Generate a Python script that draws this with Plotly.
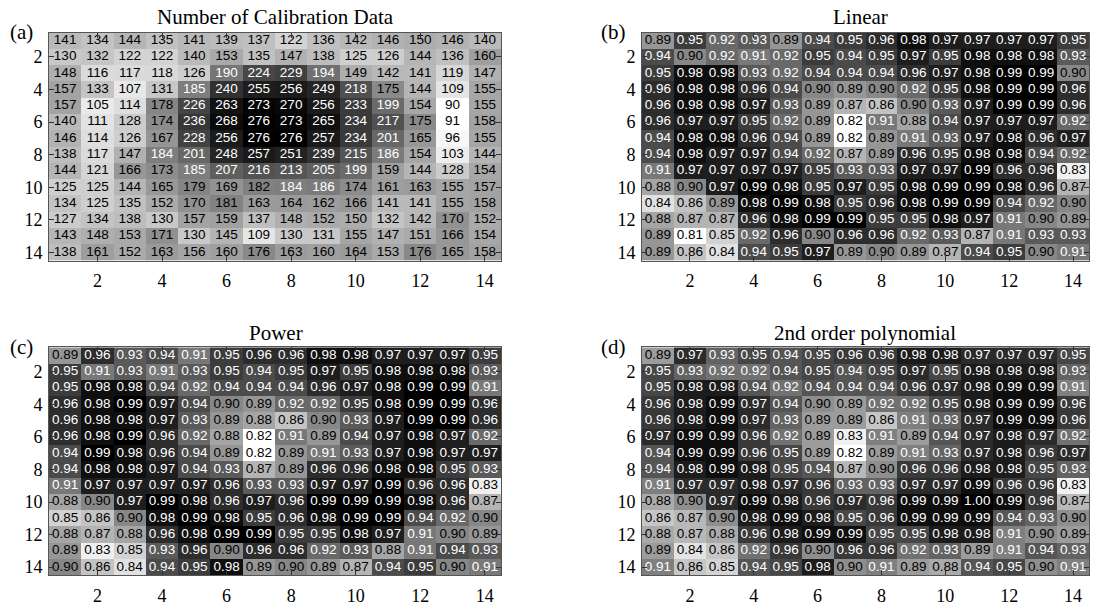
import plotly.graph_objects as go
import numpy as np

# ---------------- data ----------------
calib = [
    [141, 134, 144, 135, 141, 139, 137, 122, 136, 142, 146, 150, 146, 140],
    [130, 132, 122, 122, 140, 153, 135, 147, 138, 125, 126, 144, 136, 160],
    [148, 116, 117, 118, 126, 190, 224, 229, 194, 149, 142, 141, 119, 147],
    [157, 133, 107, 131, 185, 240, 255, 256, 249, 218, 175, 144, 109, 155],
    [157, 105, 114, 178, 226, 263, 273, 270, 256, 233, 199, 154, 90, 155],
    [140, 111, 128, 174, 236, 268, 276, 273, 265, 234, 217, 175, 91, 158],
    [146, 114, 126, 167, 228, 256, 276, 276, 257, 234, 201, 165, 96, 155],
    [138, 117, 147, 184, 201, 248, 257, 251, 239, 215, 186, 154, 103, 144],
    [144, 121, 166, 173, 185, 207, 216, 213, 205, 199, 159, 144, 128, 154],
    [125, 125, 144, 165, 179, 169, 182, 184, 186, 174, 161, 163, 155, 157],
    [134, 125, 135, 152, 170, 181, 163, 164, 162, 166, 141, 141, 155, 158],
    [127, 134, 138, 130, 157, 159, 137, 148, 152, 150, 132, 142, 170, 152],
    [143, 148, 153, 171, 130, 145, 109, 130, 131, 155, 147, 151, 166, 154],
    [138, 161, 152, 163, 156, 160, 176, 163, 160, 164, 153, 176, 165, 158],
]

linear = [
    [0.89, 0.95, 0.92, 0.93, 0.89, 0.94, 0.95, 0.96, 0.98, 0.97, 0.97, 0.97, 0.97, 0.95],
    [0.94, 0.90, 0.92, 0.91, 0.92, 0.95, 0.94, 0.95, 0.97, 0.95, 0.98, 0.98, 0.98, 0.93],
    [0.95, 0.98, 0.98, 0.93, 0.92, 0.94, 0.94, 0.94, 0.96, 0.97, 0.98, 0.99, 0.99, 0.90],
    [0.96, 0.98, 0.98, 0.96, 0.94, 0.90, 0.89, 0.90, 0.92, 0.95, 0.98, 0.99, 0.99, 0.96],
    [0.96, 0.98, 0.98, 0.97, 0.93, 0.89, 0.87, 0.86, 0.90, 0.93, 0.97, 0.99, 0.99, 0.96],
    [0.96, 0.97, 0.97, 0.95, 0.92, 0.89, 0.82, 0.91, 0.88, 0.94, 0.97, 0.97, 0.97, 0.92],
    [0.94, 0.98, 0.98, 0.96, 0.94, 0.89, 0.82, 0.89, 0.91, 0.93, 0.97, 0.98, 0.96, 0.97],
    [0.94, 0.98, 0.97, 0.97, 0.94, 0.92, 0.87, 0.89, 0.96, 0.95, 0.98, 0.98, 0.94, 0.92],
    [0.91, 0.97, 0.97, 0.97, 0.97, 0.95, 0.93, 0.93, 0.97, 0.97, 0.99, 0.96, 0.96, 0.83],
    [0.88, 0.90, 0.97, 0.99, 0.98, 0.95, 0.97, 0.95, 0.98, 0.99, 0.99, 0.98, 0.96, 0.87],
    [0.84, 0.86, 0.89, 0.98, 0.99, 0.98, 0.95, 0.96, 0.98, 0.99, 0.99, 0.94, 0.92, 0.90],
    [0.88, 0.87, 0.87, 0.96, 0.98, 0.99, 0.99, 0.95, 0.95, 0.98, 0.97, 0.91, 0.90, 0.89],
    [0.89, 0.81, 0.85, 0.92, 0.96, 0.90, 0.96, 0.96, 0.92, 0.93, 0.87, 0.91, 0.93, 0.93],
    [0.89, 0.86, 0.84, 0.94, 0.95, 0.97, 0.89, 0.90, 0.89, 0.87, 0.94, 0.95, 0.90, 0.91],
]

power = [
    [0.89, 0.96, 0.93, 0.94, 0.91, 0.95, 0.96, 0.96, 0.98, 0.98, 0.97, 0.97, 0.97, 0.95],
    [0.95, 0.91, 0.93, 0.91, 0.93, 0.95, 0.94, 0.95, 0.97, 0.95, 0.98, 0.98, 0.98, 0.93],
    [0.95, 0.98, 0.98, 0.94, 0.92, 0.94, 0.94, 0.94, 0.96, 0.97, 0.98, 0.99, 0.99, 0.91],
    [0.96, 0.98, 0.99, 0.97, 0.94, 0.90, 0.89, 0.92, 0.92, 0.95, 0.98, 0.99, 0.99, 0.96],
    [0.96, 0.98, 0.98, 0.97, 0.93, 0.89, 0.88, 0.86, 0.90, 0.93, 0.97, 0.99, 0.99, 0.96],
    [0.96, 0.98, 0.99, 0.96, 0.92, 0.88, 0.82, 0.91, 0.89, 0.94, 0.97, 0.98, 0.97, 0.92],
    [0.94, 0.99, 0.98, 0.96, 0.94, 0.89, 0.82, 0.89, 0.91, 0.93, 0.97, 0.98, 0.97, 0.97],
    [0.94, 0.98, 0.98, 0.97, 0.94, 0.93, 0.87, 0.89, 0.96, 0.96, 0.98, 0.98, 0.95, 0.93],
    [0.91, 0.97, 0.97, 0.97, 0.97, 0.96, 0.93, 0.93, 0.97, 0.97, 0.99, 0.96, 0.96, 0.83],
    [0.88, 0.90, 0.97, 0.99, 0.98, 0.96, 0.97, 0.96, 0.99, 0.99, 0.99, 0.98, 0.96, 0.87],
    [0.85, 0.86, 0.90, 0.98, 0.99, 0.98, 0.95, 0.96, 0.98, 0.99, 0.99, 0.94, 0.92, 0.90],
    [0.88, 0.87, 0.88, 0.96, 0.98, 0.99, 0.99, 0.95, 0.95, 0.98, 0.97, 0.91, 0.90, 0.89],
    [0.89, 0.83, 0.85, 0.93, 0.96, 0.90, 0.96, 0.96, 0.92, 0.93, 0.88, 0.91, 0.94, 0.93],
    [0.90, 0.86, 0.84, 0.94, 0.95, 0.98, 0.89, 0.90, 0.89, 0.87, 0.94, 0.95, 0.90, 0.91],
]

poly2 = [
    [0.89, 0.97, 0.93, 0.95, 0.94, 0.95, 0.96, 0.96, 0.98, 0.98, 0.97, 0.97, 0.97, 0.95],
    [0.95, 0.93, 0.92, 0.92, 0.94, 0.95, 0.94, 0.95, 0.97, 0.95, 0.98, 0.98, 0.98, 0.93],
    [0.95, 0.98, 0.98, 0.94, 0.92, 0.94, 0.94, 0.94, 0.96, 0.97, 0.98, 0.99, 0.99, 0.91],
    [0.96, 0.98, 0.99, 0.97, 0.94, 0.90, 0.89, 0.92, 0.92, 0.95, 0.98, 0.99, 0.99, 0.96],
    [0.96, 0.98, 0.99, 0.97, 0.93, 0.89, 0.89, 0.86, 0.91, 0.93, 0.97, 0.99, 0.99, 0.96],
    [0.97, 0.99, 0.99, 0.96, 0.92, 0.89, 0.83, 0.91, 0.89, 0.94, 0.97, 0.98, 0.97, 0.92],
    [0.94, 0.99, 0.99, 0.96, 0.95, 0.89, 0.82, 0.89, 0.91, 0.93, 0.97, 0.98, 0.96, 0.97],
    [0.94, 0.98, 0.99, 0.98, 0.95, 0.94, 0.87, 0.90, 0.96, 0.96, 0.98, 0.98, 0.95, 0.93],
    [0.91, 0.97, 0.97, 0.98, 0.97, 0.96, 0.93, 0.93, 0.97, 0.97, 0.99, 0.96, 0.96, 0.83],
    [0.88, 0.90, 0.97, 0.99, 0.98, 0.96, 0.97, 0.96, 0.99, 0.99, 1.00, 0.99, 0.96, 0.87],
    [0.86, 0.87, 0.90, 0.98, 0.99, 0.98, 0.95, 0.96, 0.99, 0.99, 0.99, 0.94, 0.93, 0.90],
    [0.88, 0.87, 0.88, 0.96, 0.98, 0.99, 0.99, 0.95, 0.95, 0.98, 0.98, 0.91, 0.90, 0.89],
    [0.89, 0.84, 0.86, 0.92, 0.96, 0.90, 0.96, 0.96, 0.92, 0.93, 0.89, 0.91, 0.94, 0.93],
    [0.91, 0.86, 0.85, 0.94, 0.95, 0.98, 0.90, 0.91, 0.89, 0.88, 0.94, 0.95, 0.90, 0.91],
]

cols = list(range(1, 15))
rows = list(range(1, 15))
tick_vals = [2, 4, 6, 8, 10, 12, 14]
titles = ["Number of Calibration Data", "Linear", "Power", "2nd order polynomial"]
labels = ["(a)", "(b)", "(c)", "(d)"]

# ---------------- style ----------------
W, H = 1094, 606
SERIF = "Liberation Serif, Times New Roman, serif"
SANS = "Liberation Sans, Arial, sans-serif"

panels = [
    # data, fmt, zmin, zmax, white-text threshold, pixel box (l, t, r, b)
    dict(z=calib, fmt="{:d}", zmin=90, zmax=276, thr=183, box=(49, 33, 501, 264), fs=13.5),
    dict(z=linear, fmt="{:.2f}", zmin=0.82, zmax=0.99, thr=0.905, box=(642, 33, 1089, 264), fs=13.5),
    dict(z=power, fmt="{:.2f}", zmin=0.82, zmax=0.99, thr=0.905, box=(49, 352, 501, 583), fs=13.5),
    dict(z=poly2, fmt="{:.2f}", zmin=0.82, zmax=1.00, thr=0.905, box=(642, 352, 1089, 583), fs=13.5),
]
title_pos = [(275, 17), (860, 17), (276, 337), (865, 337)]
label_pos = [(21, 32), (613, 32), (21, 352), (613, 352)]

fig = go.Figure()
layout = {}
for i, p in enumerate(panels):
    n = "" if i == 0 else str(i + 1)
    xa, ya = "x" + n, "y" + n
    z = np.array(p["z"], dtype=float)
    fig.add_trace(go.Heatmap(
        z=z, x=cols, y=rows, zmin=p["zmin"], zmax=p["zmax"],
        colorscale=[[0, "#ffffff"], [1, "#000000"]], showscale=False,
        xaxis=xa, yaxis=ya, hoverinfo="skip",
    ))
    for dark in (False, True):
        xs, ys, ts = [], [], []
        for r in range(14):
            for c in range(14):
                v = p["z"][r][c]
                if (v > p["thr"]) == dark:
                    xs.append(cols[c]); ys.append(rows[r]); ts.append(p["fmt"].format(v))
        fig.add_trace(go.Scatter(
            x=xs, y=ys, text=ts, mode="text", xaxis=xa, yaxis=ya,
            textfont=dict(family=SANS, size=p["fs"], color="white" if dark else "black"),
            hoverinfo="skip", showlegend=False, cliponaxis=False,
        ))
    l, t, r, b = p["box"]
    common = dict(
        ticks="inside", ticklen=5, tickwidth=1, tickcolor="#333",
        showline=True, linecolor="#555", linewidth=1, mirror="ticks",
        showgrid=False, zeroline=False, tickvals=tick_vals,
        tickfont=dict(family=SERIF, size=18, color="black"),
    )
    layout["xaxis" + n] = dict(common, domain=[l / W, r / W], range=[0.5, 14.5],
                               anchor=ya, ticklabelstandoff=4)
    layout["yaxis" + n] = dict(common, domain=[1 - b / H, 1 - t / H], range=[14.5, 0.5],
                               anchor=xa, ticklabelstandoff=2)

annotations = []
for (tx, ty), txt in zip(title_pos, titles):
    annotations.append(dict(x=tx / W, y=1 - ty / H, xref="paper", yref="paper", text=txt,
                            showarrow=False, xanchor="center", yanchor="middle",
                            font=dict(family=SERIF, size=21, color="black")))
for (tx, ty), txt in zip(label_pos, labels):
    annotations.append(dict(x=tx / W, y=1 - ty / H, xref="paper", yref="paper", text=txt,
                            showarrow=False, xanchor="center", yanchor="middle",
                            font=dict(family=SERIF, size=21, color="black")))

fig.update_layout(
    width=W, height=H, margin=dict(l=0, r=0, t=0, b=0),
    paper_bgcolor="white", plot_bgcolor="white", showlegend=False,
    annotations=annotations, **layout,
)
fig.write_html("out.html", config={"displayModeBar": False, "staticPlot": True},
               post_script="document.body.style.margin='0';document.body.style.overflow='hidden';")
